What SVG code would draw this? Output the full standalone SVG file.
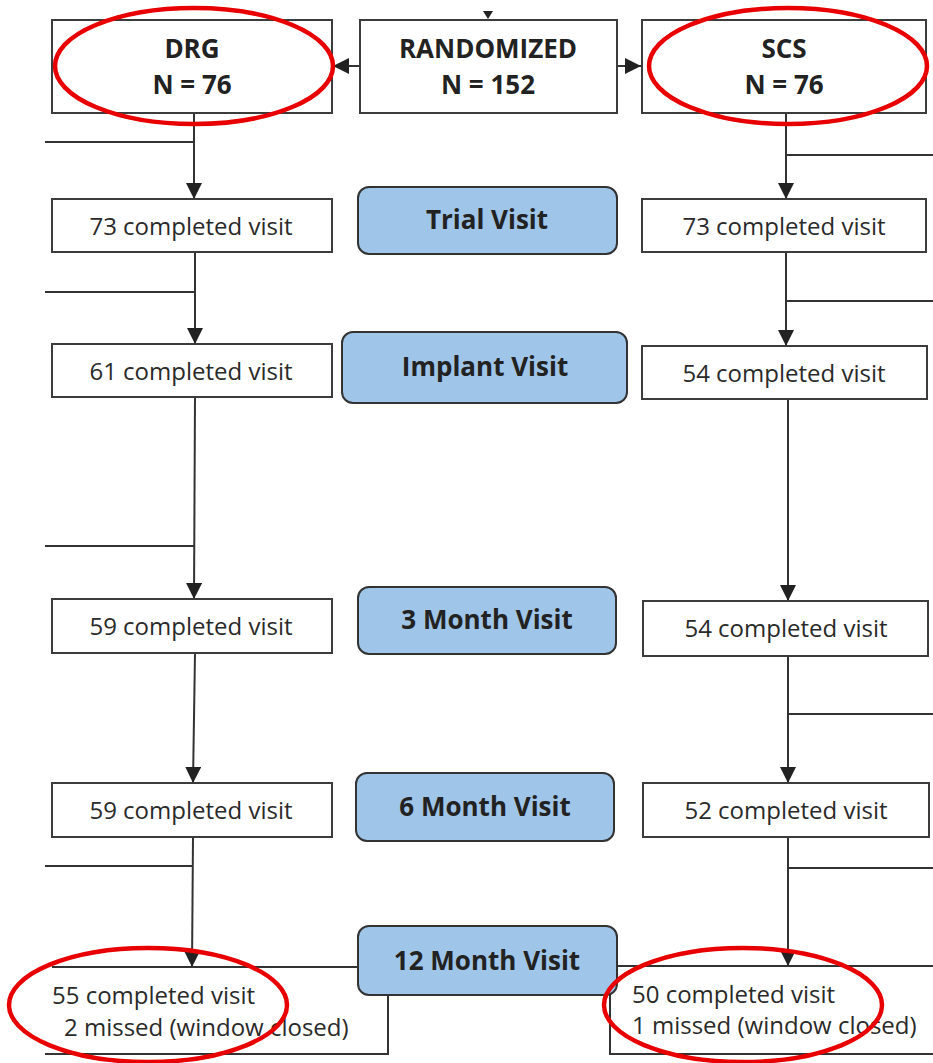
<svg xmlns="http://www.w3.org/2000/svg" width="933" height="1063" viewBox="0 0 933 1063">
<defs>
<marker id="ah" markerUnits="userSpaceOnUse" markerWidth="16" markerHeight="16" viewBox="0 0 16 16" refX="16" refY="8" orient="auto">
<path d="M0,0 L16,8 L0,16 Z" fill="#222"/>
</marker>
</defs>
<style>
.box{fill:#fff;stroke:#3c3c3c;stroke-width:2}
.visit{fill:#9fc5e8;stroke:#333;stroke-width:2}
.ln{fill:none;stroke:#333;stroke-width:2}
.t{font-family:"Open Sans","Liberation Sans",sans-serif;font-size:24px;fill:#2a2a2a}
.b{font-family:"Open Sans","Liberation Sans",sans-serif;font-size:26px;font-weight:bold;fill:#222}
.c{text-anchor:middle}
.ring{fill:none;stroke:#e80000;stroke-width:4.5}
</style>
<g id="connectors">
<path d="M483,11 L493,11 L488,19 Z" fill="#222"/>
<path class="ln" d="M360,66 L333,66" marker-end="url(#ah)"/>
<path class="ln" d="M617,66 L641,66" marker-end="url(#ah)"/>
<path class="ln" d="M194,113 L194,199" marker-end="url(#ah)"/>
<path class="ln" d="M45,142 L194,142"/>
<path class="ln" d="M786,113 L786,199" marker-end="url(#ah)"/>
<path class="ln" d="M786,155 L933,155"/>
<path class="ln" d="M195,252 L195,344" marker-end="url(#ah)"/>
<path class="ln" d="M45,292 L195,292"/>
<path class="ln" d="M786,252 L786,346" marker-end="url(#ah)"/>
<path class="ln" d="M786,301 L933,301"/>
<path class="ln" d="M195,397 L194,599" marker-end="url(#ah)"/>
<path class="ln" d="M45,546 L194,546"/>
<path class="ln" d="M788,399 L788,601" marker-end="url(#ah)"/>
<path class="ln" d="M195,653 L193,783" marker-end="url(#ah)"/>
<path class="ln" d="M788,656 L788,783" marker-end="url(#ah)"/>
<path class="ln" d="M788,714 L933,714"/>
<path class="ln" d="M193,837 L192,967" marker-end="url(#ah)"/>
<path class="ln" d="M45,866 L193,866"/>
<path class="ln" d="M788,837 L788,966" marker-end="url(#ah)"/>
<path class="ln" d="M788,868 L933,868"/>
</g>
<g id="randomized">
<rect class="box" x="360" y="20" width="257" height="93"/>
<text class="b c" x="488" y="58">RANDOMIZED</text>
<text class="b c" x="488" y="94">N = 152</text>
</g>
<g id="drg">
<rect class="box" x="52" y="20" width="280" height="93"/>
<text class="b c" x="192" y="58">DRG</text>
<text class="b c" x="192" y="94">N = 76</text>
</g>
<g id="scs">
<rect class="box" x="642" y="20" width="284" height="93"/>
<text class="b c" x="784" y="58">SCS</text>
<text class="b c" x="784" y="94">N = 76</text>
</g>
<g id="trial-visit">
<rect class="visit" x="358" y="187" width="259" height="67" rx="11"/>
<text class="b c" x="487" y="229">Trial Visit</text>
</g>
<g id="drg-trial">
<rect class="box" x="52" y="199" width="280" height="53"/>
<text class="t c" x="191" y="235">73 completed visit</text>
</g>
<g id="scs-trial">
<rect class="box" x="642" y="199" width="284" height="53"/>
<text class="t c" x="784" y="235">73 completed visit</text>
</g>
<g id="implant-visit">
<rect class="visit" x="342" y="332" width="285" height="71" rx="11"/>
<text class="b c" x="485" y="376">Implant Visit</text>
</g>
<g id="drg-implant">
<rect class="box" x="52" y="344" width="280" height="53"/>
<text class="t c" x="191" y="380">61 completed visit</text>
</g>
<g id="scs-implant">
<rect class="box" x="642" y="346" width="285" height="53"/>
<text class="t c" x="784" y="382">54 completed visit</text>
</g>
<g id="month3-visit">
<rect class="visit" x="358" y="587" width="258" height="67" rx="11"/>
<text class="b c" x="487" y="629">3 Month Visit</text>
</g>
<g id="drg-month3">
<rect class="box" x="52" y="599" width="280" height="54"/>
<text class="t c" x="191" y="635">59 completed visit</text>
</g>
<g id="scs-month3">
<rect class="box" x="643" y="601" width="285" height="55"/>
<text class="t c" x="786" y="637">54 completed visit</text>
</g>
<g id="month6-visit">
<rect class="visit" x="356" y="773" width="258" height="68" rx="11"/>
<text class="b c" x="485" y="816">6 Month Visit</text>
</g>
<g id="drg-month6">
<rect class="box" x="52" y="783" width="280" height="54"/>
<text class="t c" x="191" y="819">59 completed visit</text>
</g>
<g id="scs-month6">
<rect class="box" x="643" y="783" width="286" height="54"/>
<text class="t c" x="786" y="819">52 completed visit</text>
</g>
<g id="drg-month12">
<path class="ln" d="M52,967 L358,967 M388,995 L388,1054 L45,1054"/>
<text class="t" x="52" y="1004">55 completed visit</text>
<text class="t" x="64" y="1036">2 missed (window closed)</text>
</g>
<g id="scs-month12">
<path class="ln" d="M617,966 L933,966 M610,995 L610,1054 L933,1054"/>
<text class="t" x="632" y="1003">50 completed visit</text>
<text class="t" x="632" y="1034">1 missed (window closed)</text>
</g>
<g id="month12-visit">
<rect class="visit" x="358" y="926" width="259" height="69" rx="11"/>
<text class="b c" x="487" y="970">12 Month Visit</text>
</g>
<g id="highlights">
<ellipse class="ring" cx="194" cy="66" rx="139" ry="58"/>
<ellipse class="ring" cx="788" cy="66" rx="139" ry="58"/>
<ellipse class="ring" cx="148" cy="1005" rx="139" ry="57"/>
<ellipse class="ring" cx="743" cy="1005" rx="139" ry="57"/>
</g>
</svg>
